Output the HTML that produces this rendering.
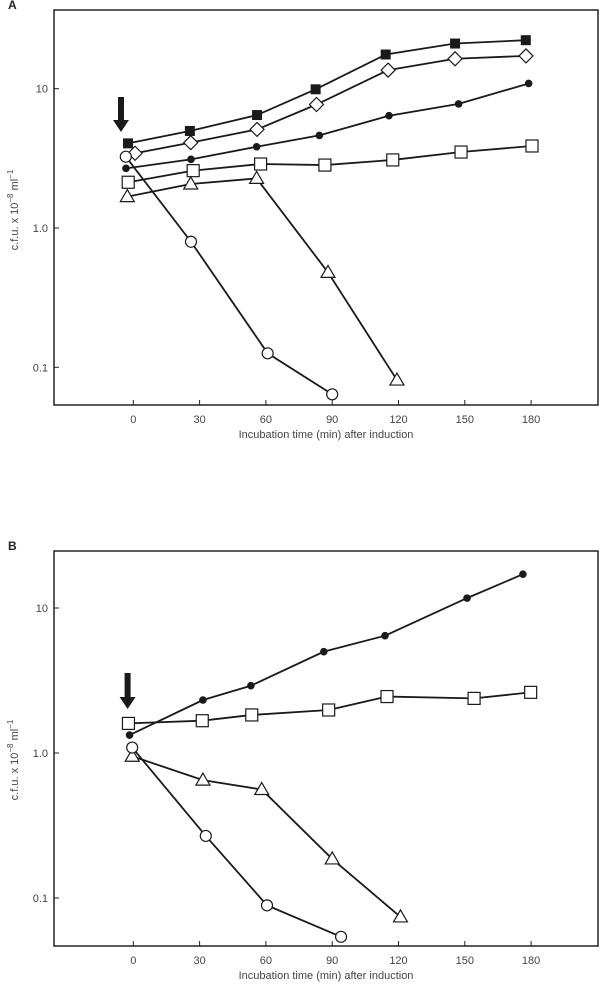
<!DOCTYPE html>
<html><head><meta charset="utf-8"><style>
html,body{margin:0;padding:0;background:#fff;}
svg{display:block;font-family:"Liberation Sans",sans-serif;}
</style></head><body>
<svg id="fig" width="600" height="985" viewBox="0 0 600 985" xmlns="http://www.w3.org/2000/svg"></svg>
<script>
// Shared ticks
const xTicks = [0, 30, 60, 90, 120, 150, 180];
const yTicks = [10, 1, 0.1];
const yTickLabels = ["10", "1.0", "0.1"];

// Panel A data
const aFilledSquareX = [-2.4, 25.6, 56, 82.5, 114.2, 145.6, 177.6];
const aFilledSquareY = [4.05, 4.97, 6.47, 9.9, 17.6, 21.1, 22.3];
const aDiamondX = [0.8, 26, 56, 82.9, 115.3, 145.6, 177.7];
const aDiamondY = [3.44, 4.1, 5.1, 7.7, 13.6, 16.4, 17.2];
const aDotX = [-3.3, 26.1, 55.8, 84.2, 115.7, 147.2, 178.9];
const aDotY = [2.68, 3.11, 3.83, 4.62, 6.4, 7.78, 10.9];
const aSquareX = [-2.3, 27.1, 57.6, 86.7, 117.4, 148.3, 180.4];
const aSquareY = [2.13, 2.58, 2.88, 2.83, 3.08, 3.51, 3.88];
const aTriangleX = [-2.7, 26, 55.8, 88.1, 119.3];
const aTriangleY = [1.68, 2.07, 2.27, 0.48, 0.081];
const aCircleX = [-3.4, 26.1, 60.8, 90];
const aCircleY = [3.25, 0.797, 0.126, 0.064];

// Panel B data
const bDotX = [-1.7, 31.5, 53.2, 86.2, 113.9, 151, 176.3];
const bDotY = [1.33, 2.32, 2.91, 5.0, 6.44, 11.7, 17.1];
const bSquareX = [-2.2, 31.2, 53.6, 88.4, 114.8, 154.2, 179.8];
const bSquareY = [1.60, 1.67, 1.83, 1.98, 2.45, 2.38, 2.62];
const bCircleX = [-0.5, 32.8, 60.5, 94];
const bCircleY = [1.09, 0.268, 0.089, 0.054];
const bTriangleX = [-0.5, 31.5, 58.1, 90, 120.9];
const bTriangleY = [0.95, 0.65, 0.56, 0.186, 0.074];

const NS = "http://www.w3.org/2000/svg";
const svg = document.getElementById("fig");
function el(tag, attrs, parent) {
  const e = document.createElementNS(NS, tag);
  for (const k in attrs) e.setAttribute(k, attrs[k]);
  (parent || svg).appendChild(e);
  return e;
}

function panel(cfg) {
  const g = el("g", {});
  
  
  const xS = v => 133.3 + v * 2.21;
  const yS = v => cfg.y1 - Math.log10(v) * cfg.dec;

  const lbl = el("text", {x: 8, y: cfg.top - 1, "font-size": 12, "font-weight": "bold", fill: "#222"}, g);
  lbl.textContent = cfg.letter;
  
  

  const frame = el("rect", {x: 54, y: cfg.top, width: 544, height: cfg.bottom - cfg.top, fill: "none", stroke: "#222", "stroke-width": 1.5}, g);
  
  

  xTicks.forEach(t => {
    const x = xS(t);
    const tk = el("line", {x1: x, x2: x, y1: cfg.bottom, y2: cfg.bottom - 5, stroke: "#222", "stroke-width": 1}, g);
    
    
    const tl = el("text", {x: x, y: cfg.bottom + 18, "font-size": 11, "text-anchor": "middle", fill: "#444"}, g);
    tl.textContent = t;
    
    
  });
  yTicks.forEach((t, i) => {
    const y = yS(t);
    const tk = el("line", {x1: 54, x2: 59, y1: y, y2: y, stroke: "#222", "stroke-width": 1}, g);
    
    
    const tl = el("text", {x: 48, y: y + 4, "font-size": 11, "text-anchor": "end", fill: "#444"}, g);
    tl.textContent = yTickLabels[i];
    
    
  });
  const xt = el("text", {x: 326, y: cfg.bottom + 33, "font-size": 11, "text-anchor": "middle", fill: "#444"}, g);
  xt.textContent = "Incubation time (min) after induction";
  
  
  const yc = cfg.ytitleY;
  const yt = el("text", {x: 0, y: 0, "font-size": 11, "text-anchor": "middle", fill: "#444", transform: "translate(18," + yc + ") rotate(-90)"}, g);
  yt.innerHTML = 'c.f.u. x 10<tspan dy="-5" font-size="8">−8</tspan><tspan dy="5"> ml</tspan><tspan dy="-5" font-size="8">−1</tspan>';
  
  

  const ax = cfg.arrowX;
  const arr = el("polygon", {points: (ax-3)+","+cfg.arrowTop+" "+(ax+3)+","+cfg.arrowTop+" "+(ax+3)+","+(cfg.arrowBot-12)+" "+(ax+8)+","+(cfg.arrowBot-12)+" "+ax+","+cfg.arrowBot+" "+(ax-8)+","+(cfg.arrowBot-12)+" "+(ax-3)+","+(cfg.arrowBot-12), fill: "#1a1a1a"}, g);
  
  

  cfg.series.forEach(s => {
    const pts = s.x.map((v, i) => [xS(v), yS(s.y[i])]);
    const sg = el("g", {}, g);
    
    
    const ln = el("polyline", {points: pts.map(p => p.join(",")).join(" "), fill: "none", stroke: "#1a1a1a", "stroke-width": 1.8}, sg);
    
    
    pts.forEach(p => {
      let m;
      const [x, y] = p;
      if (s.m === "fsq") m = el("rect", {x: x-5, y: y-5, width: 10, height: 10, fill: "#1a1a1a"}, sg);
      else if (s.m === "sq") m = el("rect", {x: x-6, y: y-6, width: 12, height: 12, fill: "#fff", stroke: "#1a1a1a", "stroke-width": 1.2}, sg);
      else if (s.m === "dot") m = el("circle", {cx: x, cy: y, r: 3.8, fill: "#1a1a1a"}, sg);
      else if (s.m === "circ") m = el("circle", {cx: x, cy: y, r: 5.5, fill: "#fff", stroke: "#1a1a1a", "stroke-width": 1.2}, sg);
      else if (s.m === "dia") m = el("polygon", {points: x+","+(y-7)+" "+(x+7)+","+y+" "+x+","+(y+7)+" "+(x-7)+","+y, fill: "#fff", stroke: "#1a1a1a", "stroke-width": 1.2}, sg);
      else m = el("polygon", {points: x+","+(y-7)+" "+(x+7)+","+(y+5)+" "+(x-7)+","+(y+5), fill: "#fff", stroke: "#1a1a1a", "stroke-width": 1.2}, sg);
      
      
    });
  });
}

panel({letter: "A", top: 10, bottom: 405, y1: 228, dec: 139.3, ytitleY: 210,
  arrowX: 121, arrowTop: 97, arrowBot: 132,
  series: [
    {name: "filled-square", m: "fsq", x: aFilledSquareX, y: aFilledSquareY},
    {name: "diamond", m: "dia", x: aDiamondX, y: aDiamondY},
    {name: "filled-circle", m: "dot", x: aDotX, y: aDotY},
    {name: "open-square", m: "sq", x: aSquareX, y: aSquareY},
    {name: "triangle", m: "tri", x: aTriangleX, y: aTriangleY},
    {name: "open-circle", m: "circ", x: aCircleX, y: aCircleY}
  ]});
panel({letter: "B", top: 551, bottom: 946, y1: 753, dec: 145, ytitleY: 760,
  arrowX: 127.6, arrowTop: 673, arrowBot: 709,
  series: [
    {name: "filled-circle", m: "dot", x: bDotX, y: bDotY},
    {name: "open-square", m: "sq", x: bSquareX, y: bSquareY},
    {name: "triangle", m: "tri", x: bTriangleX, y: bTriangleY},
    {name: "open-circle", m: "circ", x: bCircleX, y: bCircleY}
  ]});
</script>
</body></html>
